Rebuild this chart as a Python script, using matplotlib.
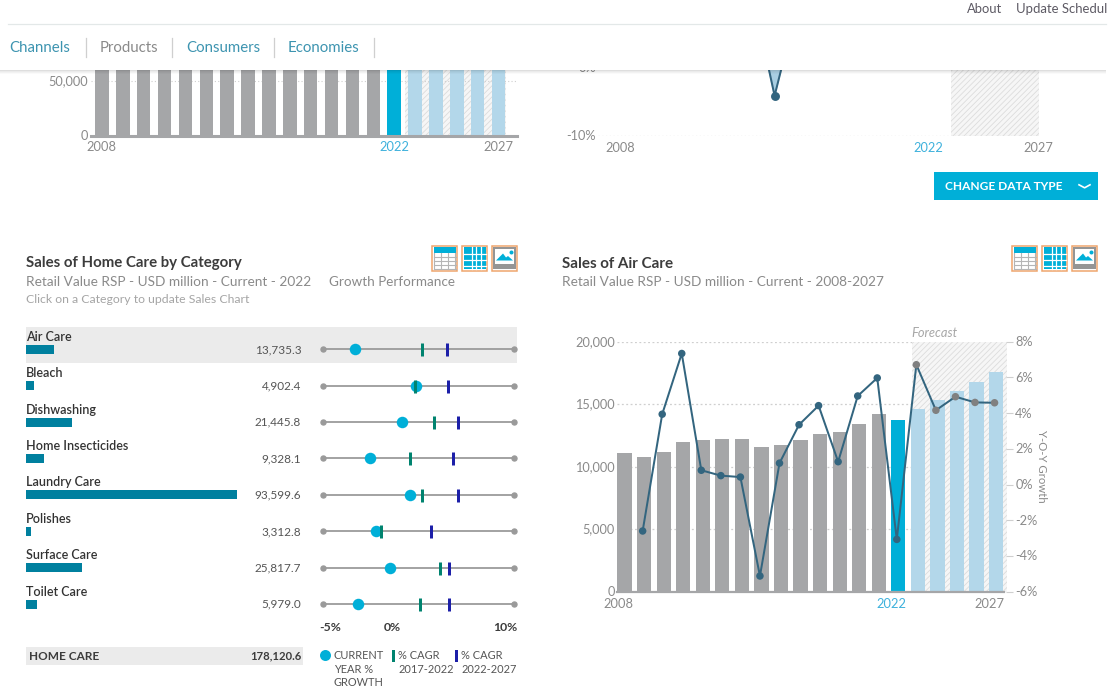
import matplotlib
matplotlib.use("Agg")
import matplotlib.pyplot as plt
from matplotlib.patches import Rectangle, Polygon
from matplotlib.ticker import FuncFormatter
from matplotlib.transforms import ScaledTranslation

plt.rcParams['font.family'] = ['Lato', 'DejaVu Sans']
plt.rcParams['hatch.linewidth'] = 0.6

# ---------- data ----------
years = list(range(2008, 2028))
home_care_sales = [121000, 119000, 125000, 133000, 137000, 140000, 141000, 136000, 139000, 144000,
                   149000, 154000, 165000, 172000, 178120, 186000, 194000, 203000, 212000, 221000]
home_care_growth_years = [2014, 2015, 2016]
home_care_growth = [10.8, -4.07, 8.8]
air_care_sales = [11090, 10770, 11170, 11970, 12110, 12190, 12190, 11600, 11730, 12110,
                  12610, 12770, 13410, 14210, 13735.3, 14640, 15310, 16030, 16750, 17550]
air_care_growth_years = list(range(2009, 2028))
air_care_growth = [-2.6, 3.94, 7.34, 0.8, 0.5, 0.42, -5.12, 1.2, 3.35, 4.42,
                   1.28, 4.96, 5.97, -3.07, 6.71, 4.16, 4.92, 4.6, 4.58]
categories = ['Air Care', 'Bleach', 'Dishwashing', 'Home Insecticides',
              'Laundry Care', 'Polishes', 'Surface Care', 'Toilet Care']
category_sales = [13735.3, 4902.4, 21445.8, 9328.1, 93599.6, 3312.8, 25817.7, 5979.0]
current_growth = [-3.11, 2.0, 0.81, -1.82, 1.52, -1.34, -0.12, -2.87]
cagr_hist = [2.52, 1.9, 3.57, 1.5, 2.57, -0.95, 4.02, 2.35]
cagr_fcst = [4.62, 4.7, 5.55, 5.16, 5.55, 3.25, 4.79, 4.79]
total_label = 'HOME CARE'
total_sales = 178120.6
last_actual = 2022

# ---------- style ----------
W, H = 1120, 688
GRAY = '#a5a6a8'; CYAN = '#00afd8'; PALE = '#b3d7ea'; LINE = '#33657f'; TEAL = '#00809f'
GREEN = '#00836f'; NAVY = '#1c1fa8'; TXT = '#8a8a8a'; DARK = '#3c3c3c'; GRID = '#cfcfcf'
HATCH_E = '#dcdcdc'; HATCH_F = '#f6f6f6'; YEARC = '#3eb1dc'
PX = 72 / 100

fig = plt.figure(figsize=(W / 100, H / 100), dpi=100, facecolor='white')

def axpx(x0, y0, x1, y1, z=1):
    a = fig.add_axes([x0 / W, 1 - y1 / H, (x1 - x0) / W, (y1 - y0) / H], zorder=z)
    a.patch.set_alpha(0)
    return a

def shift(labels, dx=0, dy=0):
    off = ScaledTranslation(dx / 100, -dy / 100, fig.dpi_scale_trans)
    for t in labels:
        t.set_transform(t.get_transform() + off)

page = axpx(0, 0, W, H, 0)
page.set_xlim(0, W); page.set_ylim(H, 0); page.axis('off')
top = axpx(0, 0, W, H, 20)
top.set_xlim(0, W); top.set_ylim(H, 0); top.axis('off')

def colors_for(yrs):
    return [GRAY if y < last_actual else CYAN if y == last_actual else PALE for y in yrs]

def clean(a):
    for s in a.spines.values():
        s.set_visible(False)
    a.tick_params(length=0)

# ---------- top-left fragment ----------
a = axpx(91, 30, 516.8, 135.7, 2)
step = 20.88
a.set_xlim(2008 - (101.9 - 91) / step, 2008 + (516.8 - 101.9) / step)
a.set_ylim(0, 105.7 / 54.4 * 50000)
clean(a)
a.add_patch(Rectangle((2022.5, 0), 4.85, 2e5, fc=HATCH_F, ec=HATCH_E, hatch='//////', lw=0, zorder=1))
a.axhline(50000, color=GRID, ls=(0, (1, 2)), lw=0.8, zorder=1.5)
a.bar(years, home_care_sales, width=13.5 / step, color=colors_for(years), zorder=2)
a.axhline(0, color=GRAY, lw=2.2, zorder=3, clip_on=False)
a.set_yticks([0, 50000]); a.yaxis.set_major_formatter(FuncFormatter(lambda v, p: f'{v:,.0f}'))
a.set_xticks([2008, 2022, 2027]); a.set_xticklabels(['2008', '2022', '2027'])
a.tick_params(axis='y', labelsize=9.2, labelcolor=TXT, pad=2.5)
a.tick_params(axis='x', labelsize=9.3, labelcolor=TXT, pad=4)
a.get_xticklabels()[1].set_color(YEARC)
shift(a.get_yticklabels(), dy=-0.8)

# ---------- top-right fragment ----------
a = axpx(598, 30, 1038.6, 136, 2)
step = 22
a.set_xlim(2008 - 22.6 / step, 2027)
a.set_ylim(-10, -10 + 106 / 6.8)
clean(a)
a.add_patch(Rectangle((2023, -10), 4, 40, fc=HATCH_F, ec=HATCH_E, hatch='//////', lw=0, zorder=1))
a.axhline(-10, color=GRID, ls=(0, (1, 2)), lw=0.9, zorder=1.5)
a.fill(home_care_growth_years, home_care_growth, color='#a9cfe2', zorder=2)
a.plot(home_care_growth_years, home_care_growth, color=LINE, lw=2 * PX, marker='o', ms=7.5 * PX, zorder=3)
a.set_yticks([-10, 0]); a.set_yticklabels(['-10%', '0%'])
a.set_xticks([2008, 2022, 2027]); a.set_xticklabels(['2008', '2022', '2027'])
a.tick_params(axis='both', labelsize=9.2, labelcolor=TXT, pad=1.5)
a.tick_params(axis='x', pad=4)
a.get_xticklabels()[1].set_color(YEARC)
shift(a.get_yticklabels(), dy=-0.8)

# ---------- air care chart ----------
a = axpx(617, 341.7, 1007, 591.7, 2)
step = 19.55
x0 = 624.6
a.set_xlim(2008 - (x0 - 617) / step, 2008 + (1007 - x0) / step)
a.set_ylim(0, 20000)
clean(a)
a.add_patch(Rectangle((2022.7, 0), 5.3, 20000, fc=HATCH_F, ec=HATCH_E, hatch='//////', lw=0, zorder=1))
a.grid(axis='y', color=GRID, ls=(0, (1.5, 2)), lw=0.9, zorder=1.5)
a.set_axisbelow(True)
a.bar(years, air_care_sales, width=14.3 / step, color=colors_for(years), zorder=2)
a.plot([a.get_xlim()[0], 2027.4], [0, 0], color=GRAY, lw=1.6, zorder=3, clip_on=False)
a.set_yticks(range(0, 20001, 5000)); a.yaxis.set_major_formatter(FuncFormatter(lambda v, p: f'{v:,.0f}'))
a.set_xticks([2008, 2022, 2027]); a.set_xticklabels(['2008', '2022', '2027'])
a.tick_params(axis='y', labelsize=9.2, labelcolor=TXT, pad=1.5)
a.tick_params(axis='x', labelsize=9.3, labelcolor=TXT, pad=4.5)
a.get_xticklabels()[1].set_color(YEARC)
shift(a.get_xticklabels(), dx=-6.5)
shift(a.get_yticklabels(), dy=-1)

b = axpx(617 - 1.5, 341.7, 1007 - 1.5, 591.7, 3)
b.set_xlim(a.get_xlim()); b.set_ylim(-6, 8)
clean(b); b.set_xticks([]); b.yaxis.tick_right()
b.set_yticks(range(-6, 9, 2)); b.set_yticklabels([f'{v}%' for v in range(-6, 9, 2)])
b.tick_params(axis='y', length=5, color=GRID, width=0.8, labelsize=9.2, labelcolor=TXT, pad=2)
shift(b.get_yticklabels(), dy=-0.5)
b.plot(air_care_growth_years, air_care_growth, color=LINE, lw=2 * PX, zorder=3)
mc = [LINE if y <= last_actual else '#808080' for y in air_care_growth_years]
b.scatter(air_care_growth_years, air_care_growth, c=mc, s=(7.5 * PX) ** 2, zorder=4, linewidths=0)
page.text(1041.5, 466, 'Y-O-Y Growth', rotation=270, color=TXT, fontsize=8.2, ha='center', va='center')
page.text(911, 333, 'Forecast', style='italic', color='#a7a7a7', fontsize=9.3, ha='left', va='center')

# ---------- category table ----------
ROW0, RSTEP, TY0, TY1 = 349.3, 36.4, 327, 625
ylim = ((TY1 - ROW0) / RSTEP, (TY0 - ROW0) / RSTEP)
rows = list(range(len(categories)))
page.add_patch(Rectangle((26, 327), 491, 35.7, fc='#ebebeb', lw=0))

a = axpx(26, TY0, 238, TY1, 2)
a.axis('off'); a.set_ylim(ylim)
a.set_xlim(2.86 / 0.002283, (2.86 + 212) / 0.002283)
a.barh(rows, category_sales, height=9 / RSTEP, color=TEAL)

a = axpx(322.6, TY0, 513.9, TY1, 3)
a.axis('off'); a.set_ylim(ylim); a.set_xlim(-5.82, 10.25)
for r in rows:
    a.plot([-5.82, 10.25], [r, r], color='#9a9a9a', lw=1.8 * PX, marker='o', ms=5 * PX,
           zorder=1, clip_on=False)
a.scatter(current_growth, rows, s=(11.5 * PX) ** 2, color=CYAN, zorder=2, linewidths=0)
a.scatter(cagr_hist, rows, marker='|', s=(13 * PX) ** 2, linewidths=3 * PX, color=GREEN, zorder=3)
a.scatter(cagr_fcst, rows, marker='|', s=(13 * PX) ** 2, linewidths=3 * PX, color=NAVY, zorder=4)

for r, name, v in zip(rows, categories, category_sales):
    y = ROW0 + RSTEP * r
    page.text(26, y - 12.5, name, color='#333333', fontsize=9, fontweight='semibold', ha='left', va='center')
    page.text(301.2, y + 0.3, f'{v:,.1f}', color='#555555', fontsize=8.5, ha='right', va='center')

page.text(330, 627.5, '-5%', color=DARK, fontsize=8.8, fontweight='bold', ha='center', va='center')
page.text(392, 627.5, '0%', color=DARK, fontsize=8.8, fontweight='bold', ha='center', va='center')
page.text(517, 627.5, '10%', color=DARK, fontsize=8.8, fontweight='bold', ha='right', va='center')

page.add_patch(Rectangle((26, 647), 277, 18, fc='#ebebeb', lw=0))
page.text(29, 656.5, total_label, color=DARK, fontsize=8.5, fontweight='bold', ha='left', va='center')
page.text(301.2, 655.5, f'{total_sales:,.1f}', color=DARK, fontsize=8.1, fontweight='bold', ha='right', va='center')

# legend
page.scatter([324.7], [655], s=(11 * PX) ** 2, color=CYAN, linewidths=0)
page.add_patch(Rectangle((391.5, 650), 3, 12, fc=GREEN, lw=0))
page.add_patch(Rectangle((455, 650), 3, 12, fc=NAVY, lw=0))
for x, lines in [(334, ['CURRENT', 'YEAR %', 'GROWTH']), (398, ['% CAGR', '2017-2022']), (461, ['% CAGR', '2022-2027'])]:
    for i, s in enumerate(lines):
        page.text(x, 655.5 + 13.6 * i, s, color='#555555', fontsize=7.9, ha='left', va='center')

# ---------- titles ----------
page.text(26, 263.5, 'Sales of Home Care by Category', color=DARK, fontsize=10.85, fontweight='bold', va='center')
page.text(26, 281.5, 'Retail Value RSP - USD million - Current - 2022', color=TXT, fontsize=9.8, va='center')
page.text(329, 281.5, 'Growth Performance', color=TXT, fontsize=9.75, va='center')
page.text(26, 299.3, 'Click on a Category to update Sales Chart', color='#a5a5a5', fontsize=8.87, va='center')
page.text(562, 263.5, 'Sales of Air Care', color=DARK, fontsize=10.9, fontweight='bold', va='center')
page.text(562, 281.5, 'Retail Value RSP - USD million - Current - 2008-2027', color=TXT, fontsize=9.8, va='center')

# ---------- icons ----------
ORANGE = '#efa66d'
def icon(x, kind, y=245.5, s=25):
    p = page
    p.add_patch(Rectangle((x, y), s, s, fc='white', ec=ORANGE, lw=1.1, zorder=2))
    if kind == 'table':
        p.add_patch(Rectangle((x + 1.5, y + 1.5), s - 3, 6, fc=CYAN, lw=0, zorder=3))
        for dy in (11, 15, 19, 23):
            p.plot([x + 1.5, x + s - 1.5], [y + dy, y + dy], color='#b5b5b5', lw=0.8, zorder=3)
        for dx in (1.8, 9, 16, s - 1.8):
            p.plot([x + dx, x + dx], [y + 7, y + s - 1.5], color='#b5b5b5', lw=0.8, zorder=3)
    elif kind == 'grid':
        p.add_patch(Rectangle((x + 1.5, y + 1.5), s - 3, s - 3, fc=CYAN, lw=0, zorder=3))
        for dy in (8, 14, 20):
            p.plot([x + 1.5, x + s - 1.5], [y + dy, y + dy], color='white', lw=0.9, zorder=4)
        for dx in (9.5, 14, 19):
            p.plot([x + dx, x + dx], [y + 1.5, y + s - 1.5], color='white', lw=0.9, zorder=4)
    else:
        p.add_patch(Rectangle((x + 1.2, y + 1.2), s - 2.4, s - 2.4, fc='#959595', lw=0, zorder=3))
        p.add_patch(Rectangle((x + 3, y + 3), s - 6, s - 10, fc='white', lw=0, zorder=4))
        p.add_patch(Polygon([(x + 4, y + 15), (x + 11, y + 8), (x + 14, y + 12), (x + 16, y + 10.5), (x + 21, y + 15)],
                            fc=CYAN, lw=0, zorder=5))
        p.scatter([x + 19], [y + 6.5], s=(4 * PX) ** 2, color=CYAN, linewidths=0, zorder=5)
for base in (432, 1012):
    icon(base, 'table'); icon(base + 30, 'grid'); icon(base + 60, 'image')

# ---------- button ----------
page.add_patch(Rectangle((934, 172.3), 163.5, 27.4, fc=CYAN, lw=0))
page.text(945, 186.3, 'CHANGE DATA TYPE', color='white', fontsize=8.55, fontweight='bold', va='center')
page.plot([1079, 1084.6, 1090], [184.8, 187.8, 184.8], color='white', lw=1.2)

# ---------- header overlay ----------
top.add_patch(Rectangle((0, 0), W, 70, fc='white', lw=0, zorder=1))
top.add_patch(Rectangle((1106, 70), W - 1106, 618, fc='white', lw=0, zorder=1))
for i, alpha in enumerate((0.13, 0.08, 0.05, 0.02)):
    top.add_patch(Rectangle((0, 70 + i), 1106, 1, fc='black', alpha=alpha, lw=0, zorder=2))
top.plot([8, 1106], [24.2, 24.2], color='#e3e8e8', lw=0.9, zorder=3)
top.text(967, 8.7, 'About', color='#5d5a64', fontsize=9.4, va='center', zorder=3)
top.text(1016, 8.7, 'Update Schedul', color='#5d5a64', fontsize=9.45, va='center', zorder=3)
for x, s, c in [(9.5, 'Channels', '#3d94b0'), (100, 'Products', '#8a8a8a'), (186, 'Consumers', '#3d94b0'), (288, 'Economies', '#3d94b0')]:
    top.text(x, 48, s, color=c, fontsize=10.8, va='center', zorder=3)
for x in (85.7, 172, 273.6, 374):
    top.plot([x, x], [38, 57], color='#cfcfcf', lw=0.9, zorder=3)

fig.savefig('out.png', dpi=100, facecolor='white')
